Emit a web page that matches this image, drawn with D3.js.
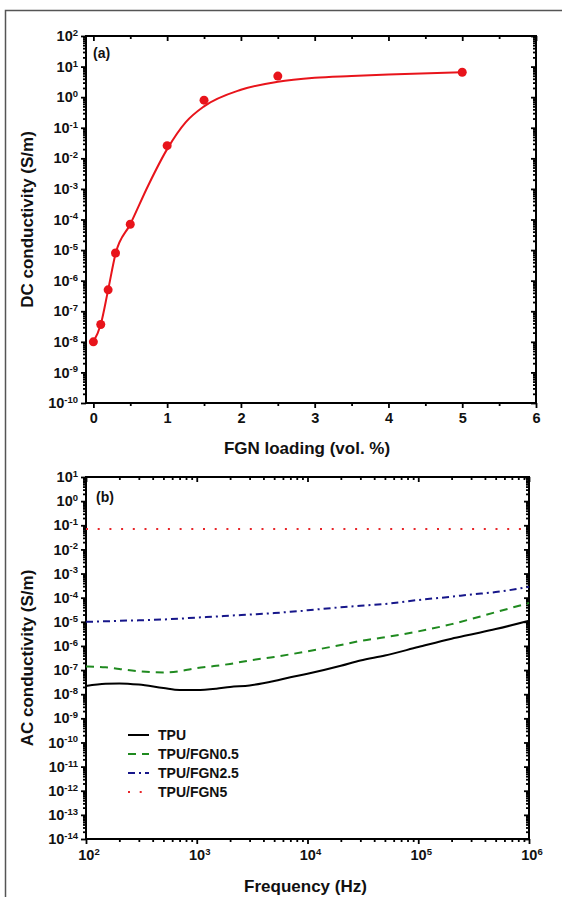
<!DOCTYPE html>
<html>
<head>
<meta charset="utf-8">
<script src="https://cdn.jsdelivr.net/npm/d3@7"></script>
<style>
  body { margin: 0; background: #fff; }
  text { font-family: "Liberation Sans", Arial, sans-serif; font-weight: bold; fill: #111; }
</style>
</head>
<body>
<script>
(function() {

    // ---- panel (a) data : DC conductivity vs FGN loading
    var loading = [0, 0.1, 0.2, 0.3, 0.5, 1.0, 1.5, 2.5, 5.0];
    var dcCond = [1e-8, 3.7e-8, 5e-7, 8e-6, 7e-5, 2.6e-2, 0.8, 4.9, 6.5];

    // fitted curve
    var fitLoading = [0, 0.1, 0.2, 0.3, 0.5, 0.75, 1.0, 1.25, 1.5, 2.0, 2.5, 3.0, 3.5, 4.0, 5.0];
    var fitCond = [1e-8, 3.7e-8, 5e-7, 7.5e-6, 7e-5, 1.4e-3, 2.0e-2, 0.15, 0.5, 1.75, 3.2, 4.3, 4.9, 5.5, 6.5];

    var loadingTicks = [0, 1, 2, 3, 4, 5, 6];
    var loadingMinor = [0.5, 1.5, 2.5, 3.5, 4.5, 5.5];

    // ---- panel (b) data : AC conductivity vs frequency
    var freq = [100, 150, 200, 300, 500, 700, 1e3, 1.5e3, 2e3, 3e3, 5e3, 7e3,
                1e4, 2e4, 3e4, 5e4, 1e5, 2e5, 3e5, 5e5, 1e6];
    var tpu = [2.2e-8, 2.7e-8, 2.8e-8, 2.5e-8, 1.8e-8, 1.5e-8, 1.5e-8, 1.7e-8, 2e-8, 2.3e-8, 3.5e-8, 5e-8,
               7e-8, 1.5e-7, 2.5e-7, 4e-7, 9e-7, 2e-6, 3e-6, 5e-6, 1.1e-5];
    var fgn05 = [1.4e-7, 1.3e-7, 1.1e-7, 9e-8, 8e-8, 9e-8, 1.2e-7, 1.5e-7, 1.8e-7, 2.5e-7, 3.5e-7, 4.5e-7,
                 6e-7, 1.1e-6, 1.6e-6, 2.3e-6, 4e-6, 8e-6, 1.3e-5, 2.5e-5, 6e-5];
    var fgn25 = [1e-5, 1.05e-5, 1.1e-5, 1.15e-5, 1.25e-5, 1.35e-5, 1.5e-5, 1.65e-5, 1.8e-5, 2e-5, 2.3e-5, 2.6e-5,
                 3e-5, 4e-5, 4.6e-5, 5.5e-5, 8e-5, 1.1e-4, 1.35e-4, 1.7e-4, 2.8e-4];
    var fgn5 = [0.07, 0.07, 0.07, 0.07, 0.07, 0.07, 0.07, 0.07, 0.07, 0.07, 0.07, 0.07,
                0.07, 0.07, 0.07, 0.07, 0.07, 0.07, 0.07, 0.07, 0.07];

    var seriesNames = ["TPU", "TPU/FGN0.5", "TPU/FGN2.5", "TPU/FGN5"];
    var seriesValues = [tpu, fgn05, fgn25, fgn5];
    var seriesColors = ["#000000", "#1f8a1f", "#16168a", "#e8262a"];
    var seriesDash = [null, "8,6", "7,4,2,4", "2,9.7"];

    var width = 562, height = 897;

    var svg = d3.select("body")
        .append("svg")
        .attr("width", width)
        .attr("height", height);

    // outer frame of the figure
    svg.append("path")
        .attr("d", "M5.5," + height + "V10.5H" + width)
        .attr("fill", "none")
        .attr("stroke", "#555")
        .attr("stroke-width", 1.5);

    function decades(lo, hi) {
        var out = [];
        for (var e = lo; e <= hi; e++) out.push(Math.pow(10, e));
        return out;
    }
    function minors(lo, hi) {
        var out = [];
        for (var e = lo; e < hi; e++)
            for (var m = 2; m <= 9; m++) out.push(m * Math.pow(10, e));
        return out;
    }

    // replace a tick label by 10 + superscript exponent
    function powLabels(sel) {
        sel.selectAll(".tick text").each(function(d) {
            var t = d3.select(this).text("");
            t.append("tspan").text("10");
            t.append("tspan")
                .attr("dy", "-0.55em")
                .style("font-size", "9.5px")
                .text(Math.round(Math.log10(d)));
        });
    }

    function styleAxis(g) {
        g.select(".domain").remove();
        g.selectAll(".tick line").attr("stroke", "#000").attr("stroke-width", 1.8);
        g.selectAll(".tick text").style("font-size", "14.5px");
    }

    // ================= panel (a)
    var a = { left: 86, right: 536, top: 36, bottom: 403 };

    var xA = d3.scaleLinear().domain([-0.1, 6]).range([a.left, a.right]);
    var yA = d3.scaleLog().domain([1e-10, 1e2]).range([a.bottom, a.top]);

    var gA = svg.append("g");

    // left
    gA.append("g").attr("transform", "translate(" + a.left + ",0)")
        .call(d3.axisLeft(yA).tickValues(minors(-10, 2)).tickSize(3).tickFormat(""))
        .call(styleAxis);
    gA.append("g").attr("transform", "translate(" + a.left + ",0)")
        .call(d3.axisLeft(yA).tickValues(decades(-10, 2)).tickSize(5).tickPadding(3))
        .call(styleAxis).call(powLabels);
    // right (inward)
    gA.append("g").attr("transform", "translate(" + a.right + ",0)")
        .call(d3.axisRight(yA).tickValues(minors(-10, 2)).tickSize(-3).tickFormat(""))
        .call(styleAxis);
    gA.append("g").attr("transform", "translate(" + a.right + ",0)")
        .call(d3.axisRight(yA).tickValues(decades(-10, 2)).tickSize(-5).tickFormat(""))
        .call(styleAxis);
    // bottom
    gA.append("g").attr("transform", "translate(0," + a.bottom + ")")
        .call(d3.axisBottom(xA).tickValues(loadingMinor).tickSize(3).tickFormat(""))
        .call(styleAxis);
    gA.append("g").attr("transform", "translate(0," + a.bottom + ")")
        .call(d3.axisBottom(xA).tickValues(loadingTicks).tickSize(5).tickPadding(5).tickFormat(d3.format("d")))
        .call(styleAxis);
    // top (inward)
    gA.append("g").attr("transform", "translate(0," + a.top + ")")
        .call(d3.axisTop(xA).tickValues(loadingMinor).tickSize(-3).tickFormat(""))
        .call(styleAxis);
    gA.append("g").attr("transform", "translate(0," + a.top + ")")
        .call(d3.axisTop(xA).tickValues(loadingTicks).tickSize(-5).tickFormat(""))
        .call(styleAxis);

    gA.append("rect")
        .attr("x", a.left).attr("y", a.top)
        .attr("width", a.right - a.left).attr("height", a.bottom - a.top)
        .attr("fill", "none").attr("stroke", "#000").attr("stroke-width", 2);

    var fitLine = d3.line()
        .curve(d3.curveMonotoneX)
        .x(function(d, i) { return xA(fitLoading[i]); })
        .y(function(d) { return yA(d); });

    gA.append("path")
        .attr("d", fitLine(fitCond))
        .attr("fill", "none")
        .attr("stroke", "#e8141b")
        .attr("stroke-width", 2);

    gA.selectAll(".pt")
        .data(dcCond)
        .enter().append("circle")
        .attr("class", "pt")
        .attr("cx", function(d, i) { return xA(loading[i]); })
        .attr("cy", function(d) { return yA(d); })
        .attr("r", 4.5)
        .attr("fill", "#e8141b");

    gA.append("text")
        .attr("x", a.left + 7).attr("y", a.top + 22)
        .style("font-size", "14px")
        .text("(a)");

    gA.append("text")
        .attr("x", (a.left + a.right) / 2 - 4).attr("y", 454)
        .attr("text-anchor", "middle")
        .style("font-size", "17px")
        .text("FGN loading (vol. %)");

    gA.append("text")
        .attr("transform", "translate(33," + (a.top + a.bottom) / 2 + ") rotate(-90)")
        .attr("text-anchor", "middle")
        .style("font-size", "17px")
        .text("DC conductivity (S/m)");

    // ================= panel (b)
    var b = { left: 86, right: 529, top: 477, bottom: 839 };

    var xB = d3.scaleLog().domain([1e2, 1e6]).range([b.left, b.right]);
    var yB = d3.scaleLog().domain([1e-14, 1e1]).range([b.bottom, b.top]);

    var gB = svg.append("g");

    gB.append("g").attr("transform", "translate(" + b.left + ",0)")
        .call(d3.axisLeft(yB).tickValues(minors(-14, 1)).tickSize(3).tickFormat(""))
        .call(styleAxis);
    gB.append("g").attr("transform", "translate(" + b.left + ",0)")
        .call(d3.axisLeft(yB).tickValues(decades(-14, 1)).tickSize(5).tickPadding(3))
        .call(styleAxis).call(powLabels);
    gB.append("g").attr("transform", "translate(" + b.right + ",0)")
        .call(d3.axisRight(yB).tickValues(minors(-14, 1)).tickSize(-3).tickFormat(""))
        .call(styleAxis);
    gB.append("g").attr("transform", "translate(" + b.right + ",0)")
        .call(d3.axisRight(yB).tickValues(decades(-14, 1)).tickSize(-5).tickFormat(""))
        .call(styleAxis);

    gB.append("g").attr("transform", "translate(0," + b.bottom + ")")
        .call(d3.axisBottom(xB).tickValues(minors(2, 6)).tickSize(3).tickFormat(""))
        .call(styleAxis);
    var xAxisB = gB.append("g").attr("transform", "translate(0," + b.bottom + ")")
        .call(d3.axisBottom(xB).tickValues(decades(2, 6)).tickSize(5).tickPadding(6))
        .call(styleAxis).call(powLabels);
    xAxisB.selectAll(".tick text").attr("dx", "2.5");

    gB.append("g").attr("transform", "translate(0," + b.top + ")")
        .call(d3.axisTop(xB).tickValues(minors(2, 6)).tickSize(-3).tickFormat(""))
        .call(styleAxis);
    gB.append("g").attr("transform", "translate(0," + b.top + ")")
        .call(d3.axisTop(xB).tickValues(decades(2, 6)).tickSize(-5).tickFormat(""))
        .call(styleAxis);

    gB.append("rect")
        .attr("x", b.left).attr("y", b.top)
        .attr("width", b.right - b.left).attr("height", b.bottom - b.top)
        .attr("fill", "none").attr("stroke", "#000").attr("stroke-width", 2);

    var acLine = d3.line()
        .curve(d3.curveMonotoneX)
        .x(function(d, i) { return xB(freq[i]); })
        .y(function(d) { return yB(d); });

    gB.selectAll(".ac")
        .data(seriesValues)
        .enter().append("path")
        .attr("class", "ac")
        .attr("d", function(d) { return acLine(d); })
        .attr("fill", "none")
        .attr("stroke", function(d, i) { return seriesColors[i]; })
        .attr("stroke-width", 2)
        .attr("stroke-dasharray", function(d, i) { return seriesDash[i]; });

    // legend
    var legend = gB.append("g").attr("transform", "translate(128,735)");
    var rows = legend.selectAll(".row")
        .data(seriesNames)
        .enter().append("g")
        .attr("class", "row")
        .attr("transform", function(d, i) { return "translate(0," + i * 19 + ")"; });
    rows.append("line")
        .attr("x1", 0).attr("x2", 21)
        .attr("stroke", function(d, i) { return seriesColors[i]; })
        .attr("stroke-width", 2)
        .attr("stroke-dasharray", function(d, i) { return seriesDash[i]; });
    rows.append("text")
        .attr("x", 30).attr("y", 5)
        .style("font-size", "14px")
        .text(function(d) { return d; });

    gB.append("text")
        .attr("x", b.left + 10).attr("y", b.top + 25)
        .style("font-size", "14px")
        .text("(b)");

    gB.append("text")
        .attr("x", (b.left + b.right) / 2 - 2).attr("y", 892)
        .attr("text-anchor", "middle")
        .style("font-size", "17px")
        .text("Frequency (Hz)");

    gB.append("text")
        .attr("transform", "translate(33," + (b.top + b.bottom) / 2 + ") rotate(-90)")
        .attr("text-anchor", "middle")
        .style("font-size", "17px")
        .text("AC conductivity (S/m)");

})();
</script>
</body>
</html>
